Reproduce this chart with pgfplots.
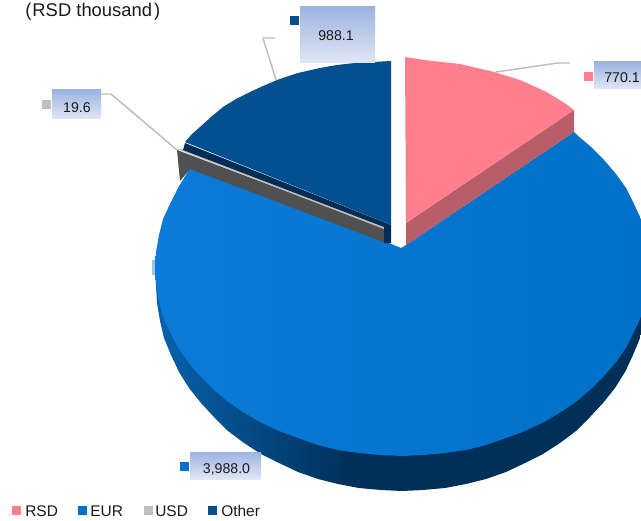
\documentclass[border=0pt]{standalone}
\usepackage{pgfplots}
\pgfplotsset{compat=1.18}
\usepackage{fontspec}
\setmainfont{Liberation Sans}
\definecolor{cRSD}{HTML}{FF7F8E}
\definecolor{cRSDw}{HTML}{B75E68}
\definecolor{cEUR}{HTML}{0070C8}
\definecolor{cEURl}{HTML}{0A7BD8}
\definecolor{cEURm}{HTML}{0762AE}
\definecolor{cEURd}{HTML}{002F58}
\definecolor{cUSD}{HTML}{BFBFBF}
\definecolor{cUSDw}{HTML}{505050}
\definecolor{cOTH}{HTML}{02508F}
\definecolor{cOTHw}{HTML}{002C56}
\definecolor{cLine}{HTML}{BDBDBD}
\definecolor{boxT}{HTML}{9DB3E1}
\definecolor{boxB}{HTML}{E1E7F5}
\definecolor{txt}{HTML}{1A1A1A}
\pgfdeclarehorizontalshading{wall}{100bp}{color(0bp)=(cEURm); color(25bp)=(cEURm); color(45bp)=(cEURd); color(100bp)=(cEURd)}
\pgfplotsset{
  poly/.style={no markers,draw=none,forget plot},
  lead/.style={no markers,draw=cLine,line width=1.1pt,forget plot},
  box/.style={no markers,draw=none,forget plot,top color=boxT,bottom color=boxB},
  key/.style={no markers,draw=none,forget plot,fill=#1}
}
\begin{document}
\begin{tikzpicture}[
  lab/.style={font=\fontsize{10.6}{12}\selectfont,text=txt,inner sep=0pt},
  leg/.style={font=\fontsize{11.6}{13}\selectfont,text=txt,inner sep=0pt,anchor=west}
]
\begin{axis}[
  scale only axis,width=480.75pt,height=390pt,
  xmin=0,xmax=641,ymin=0,ymax=520,y dir=reverse,
  axis lines=none,clip=true
]
\path[draw=none] (axis cs:0,0) rectangle (axis cs:641,520);
% side wall of the EUR slice
\addplot[poly,shading=wall] coordinates {(649,268)(648,285)(647,303)(644,321)(640,338)(633,355)(625,372)(615,388)(603,403)(590,417)(576,431)(560,443)(543,454)(525,463)(506,472)(486,479)(466,484)(445,488)(423,490)(402,491)(381,490)(359,488)(338,484)(318,479)(298,472)(279,463)(261,454)(244,443)(228,431)(214,417)(201,403)(189,388)(179,372)(171,355)(164,338)(160,321)(157,303)(156,285)(155,268)} --cycle;
% EUR top
\addplot[poly,left color=cEURl,right color=cEUR] coordinates {(574,132)(577,135)(591,147)(604,160)(616,174)(626,188)(634,204)(641,219)(645,235)(648,252)(649,268)(648,284)(645,301)(641,317)(634,332)(626,348)(616,362)(604,376)(591,389)(577,401)(561,412)(544,422)(525,431)(506,438)(486,445)(466,450)(445,453)(423,455)(402,456)(380,455)(359,453)(338,450)(318,445)(298,438)(279,431)(260,422)(243,412)(227,401)(213,389)(200,376)(188,362)(178,348)(170,332)(163,317)(159,301)(156,284)(155,268)(156,252)(159,235)(163,219)(170,204)(178,188)(190,168)(384,241)(401,248)(406,245)} --cycle;
\addplot[poly,fill=cEUR!40!white] coordinates {(152,260)(155,260)(155,275)(152,275)} --cycle;
% USD slice
\addplot[poly,fill=cUSDw] coordinates {(177,150)(384,228)(386,243)(190,169)(180,181)} --cycle;
\addplot[poly,fill=cUSD] coordinates {(177,149)(183,149)(384,226)(384,229)} --cycle;
% Other slice
\addplot[poly,fill=cOTHw] coordinates {(185,143)(391,225)(391,243)(384,243)(384,227)(183,150)} --cycle;
\addplot[poly,fill=cOTH] coordinates {(185,142)(192,134)(200,127)(211,117)(223,107)(236,99)(250,92)(263,86)(277,80)(298,73)(320,68)(337,65)(355,63)(373,62)(391,61)(391,225)} --cycle;
% RSD slice
\addplot[poly,fill=cRSDw] coordinates {(574,110)(574,132)(406,245)(406,223)} --cycle;
\addplot[poly,fill=cRSD] coordinates {(405,57)(424,60)(442,62)(460,64)(477,68)(494,72)(507,76)(520,80)(538,88)(548,93)(558,99)(566,104)(574,110)(406,223)} --cycle;
% leader lines
\addplot[lead] coordinates {(101,94)(111,94)(177,150)};
\addplot[lead] coordinates {(275,38)(263,38)(276,80)};
\addplot[lead] coordinates {(570,63)(558,63)(496,72)};
% label boxes
\addplot[box] coordinates {(300,7)(375,7)(375,63)(300,63)} --cycle;
\addplot[box] coordinates {(52,90)(101,90)(101,119)(52,119)} --cycle;
\addplot[box] coordinates {(594,62)(641,62)(641,89)(594,89)} --cycle;
\addplot[box] coordinates {(190,452)(261,452)(261,479)(190,479)} --cycle;
% label keys
\addplot[key=cOTH] coordinates {(290,16)(299,16)(299,25)(290,25)} --cycle;
\addplot[key=cUSD] coordinates {(42,100)(51,100)(51,109)(42,109)} --cycle;
\addplot[key=cRSD] coordinates {(584,72)(593,72)(593,81)(584,81)} --cycle;
\addplot[key=cEUR] coordinates {(180,462)(189,462)(189,471)(180,471)} --cycle;
% legend keys
\addplot[key=cRSD] coordinates {(12,506)(21,506)(21,515)(12,515)} --cycle;
\addplot[key=cEUR] coordinates {(78,506)(87,506)(87,515)(78,515)} --cycle;
\addplot[key=cUSD] coordinates {(144,506)(153,506)(153,515)(144,515)} --cycle;
\addplot[key=cOTH] coordinates {(208,506)(217,506)(217,515)(208,515)} --cycle;
% text
\node[lab] at (axis cs:336,36) {988.1};
\node[lab] at (axis cs:77,108) {19.6};
\node[lab] at (axis cs:622,78) {770.1};
\node[lab] at (axis cs:226.5,469) {3,988.0};
\node[leg] at (axis cs:25,511) {RSD};
\node[leg] at (axis cs:90,511) {EUR};
\node[leg] at (axis cs:155,511) {USD};
\node[leg] at (axis cs:221,511) {Other};
\node[font=\fontsize{13.8}{16}\selectfont,text=txt,inner sep=0pt,anchor=west] at (axis cs:25,12) {(\kern0.8pt RSD thousand\kern1.5pt)};
\end{axis}
\end{tikzpicture}
\end{document}
